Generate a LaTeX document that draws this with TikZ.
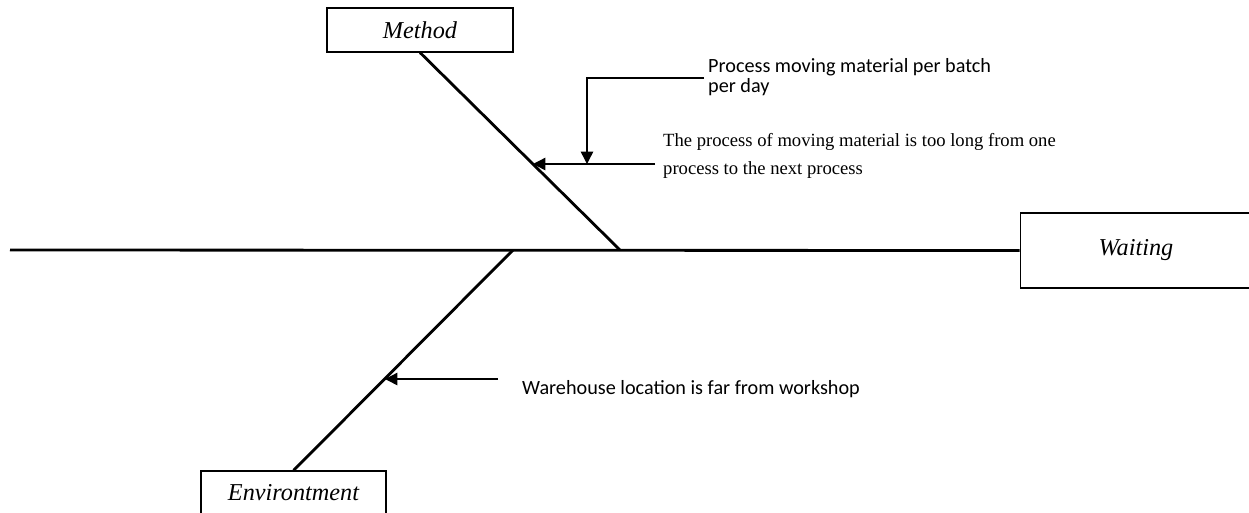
\documentclass[tikz,border=0pt]{standalone}
\usepackage{fontspec}
\setmainfont{Liberation Serif}
\newfontfamily\notefont{Carlito}
\usetikzlibrary{arrows.meta}

\tikzset{
  catbox/.style={draw, line width=0.6pt, minimum height=0.88cm, font=\fontsize{13.8}{16}\selectfont\itshape},
  bone/.style={line width=1.6pt},
  pointer/.style={line width=0.8pt, -{Triangle[length=7pt,width=7pt]}},
  serifnote/.style={anchor=west, align=left, font=\fontsize{10.6}{16}\selectfont},
  sansnote/.style={anchor=west, align=left, font=\notefont\fontsize{11.5}{11.6}\selectfont}
}

\begin{document}
\begin{tikzpicture}[x=0.02cm, y=-0.02cm]
				\useasboundingbox (0,0) rectangle (1249,512);
				% head and categories
				\node[catbox, minimum width=4.64cm, minimum height=1.5cm] (waiting) at (1136,250.5) {Waiting};
				\node[catbox, minimum width=3.72cm] (method) at (420,30) {Method};
				\node[catbox, minimum width=3.7cm] (env) at (293.5,493) {Environtment};
				% spine and bones
				\coordinate (tail) at (10,250);
				\coordinate (mhead) at (620,250);
				\coordinate (ehead) at (513,250);
				\draw[bone] (tail) -- (waiting.west);
				\draw[bone] (method.south) -- (mhead);
				\draw[bone] (ehead) -- (env.north);
				% causes
				\node[sansnote] (batch) at (702,77) {Process moving material per batch\\per day};
				\node[serifnote] (long) at (657,156) {The process of moving material is too long from one\\process to the next process};
				\node[sansnote] (store) at (516,389) {Warehouse location is far from workshop};
				\coordinate (m1) at (533,164);
				\coordinate (m1s) at (655,164);
				\coordinate (m2) at (587,164);
				\coordinate (m2s) at (704,78);
				\coordinate (e1) at (385,379);
				\coordinate (e1s) at (498,379);
				\draw[pointer] (m1s) -- (m1);
				\draw[pointer] (m2s) -| (m2);
				\draw[pointer] (e1s) -- (e1);
			\end{tikzpicture}
\end{document}
